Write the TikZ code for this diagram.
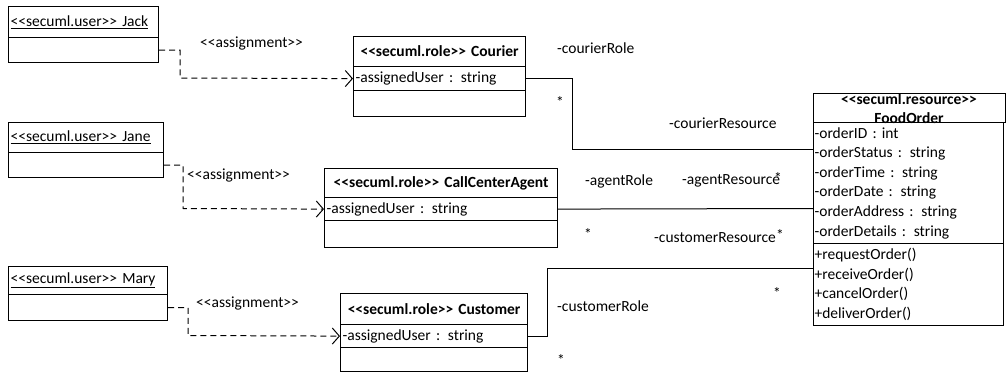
\documentclass[tikz,border=0pt]{standalone}
\usepackage{fontspec}
\setmainfont{Carlito}[Ligatures=TeXOff]
\usetikzlibrary{arrows.meta}
\begin{document}
\begin{tikzpicture}[x=1pt,y=-1pt,
  every node/.style={font=\fontsize{15.5}{18}\selectfont},
  comp/.style={draw, line width=1.2pt, anchor=north west, inner xsep=2pt, inner ysep=0pt, align=left},
  ttl/.style={comp, align=center, font=\fontsize{15.5}{18}\selectfont\bfseries},
  lbl/.style={anchor=west, inner sep=0pt},
  mult/.style={inner sep=0pt},
  assoc/.style={line width=1pt},
  assign/.style={line width=1pt, dash pattern=on 6pt off 4pt,
    -{Straight Barb[length=7pt,width=16pt,line width=1pt]}},
]
\useasboundingbox (0,0) rectangle (1006,374);

% user instances
\node[comp, text width=146pt, minimum height=31pt] (jackT) at (8,6) {\underline{<<secuml.user>> Jack}};
\node[comp, text width=146pt, minimum height=25pt] (jackB) at (8,37) {};
\node[comp, text width=151pt, minimum height=30pt] (janeT) at (8,122) {\underline{<<secuml.user>> Jane}};
\node[comp, text width=151pt, minimum height=25pt] (janeB) at (8,152) {};
\node[comp, text width=155pt, minimum height=28pt] (maryT) at (8,266) {\underline{<<secuml.user>> Mary}};
\node[comp, text width=155pt, minimum height=26pt] (maryB) at (8,294) {};

% roles
\node[ttl, text width=168pt, minimum height=30pt] (courT) at (353,36) {<<secuml.role>> Courier};
\node[comp, text width=168pt, minimum height=24pt] (courA) at (353,66) {-assignedUser : string};
\node[comp, text width=168pt, minimum height=26pt] (courO) at (353,90) {};

\node[ttl, text width=229pt, minimum height=29pt] (agT) at (324,168) {<<secuml.role>> CallCenterAgent};
\node[comp, text width=229pt, minimum height=23pt] (agA) at (324,197) {-assignedUser : string};
\node[comp, text width=229pt, minimum height=27pt] (agO) at (324,220) {};

\node[ttl, text width=183pt, minimum height=31pt] (custT) at (340,293) {<<secuml.role>> Customer};
\node[comp, text width=183pt, minimum height=23pt] (custA) at (340,324) {-assignedUser : string};
\node[comp, text width=183pt, minimum height=24pt] (custO) at (340,347) {};

% resource class
\node[font=\fontsize{15.5}{19}\selectfont\bfseries, align=center, inner sep=0pt] (foodName) at (909,109) {<<secuml.resource>>\\FoodOrder};
\node[comp, text width=188pt, minimum height=29pt] (foodT) at (813,93) {};
\node[comp, text width=188pt, minimum height=121pt, font=\fontsize{15.5}{19.6}\selectfont, inner xsep=1pt] (foodA) at (813,122)
  {-orderID : int\\-orderStatus : string\\-orderTime : string\\-orderDate : string\\-orderAddress : string\\-orderDetails : string};
\node[comp, text width=188pt, minimum height=82pt, font=\fontsize{15.5}{19.6}\selectfont, inner xsep=1pt] (foodO) at (813,243)
  {+requestOrder()\\+receiveOrder()\\+cancelOrder()\\+deliverOrder()};

% association end points on the resource class
\coordinate (fCour) at (813,150);
\coordinate (fAg) at (813,208.5);
\coordinate (fCust) at (813,268);

% assignments
\draw[assign] (jackB.east) -| (180,78) -- (courA.west);
\draw[assign] (janeB.east) -| (183,208.5) -- (agA.west);
\draw[assign] (maryB.east) -| (188,335.5) -- (custA.west);
\node[lbl] (asg1) at (200,44) {<<assignment>>};
\node[lbl] (asg2) at (187,176) {<<assignment>>};
\node[lbl] (asg3) at (196,303) {<<assignment>>};

% associations
\draw[assoc] (courA.east) -| (572,150) -- (fCour);
\draw[assoc] (agA.east) -- (fAg);
\draw[assoc] (custA.east) -| (547,268) -- (fCust);

% role ends and multiplicities
\node[lbl] (crRole) at (557,48) {-courierRole};
\node[lbl] (crRes) at (669,123) {-courierResource};
\node[lbl] (agRole) at (585,181) {-agentRole};
\node[lbl] (agRes) at (682,181) {-agentResource};
\node[lbl] (cuRes) at (654,238) {-customerResource};
\node[lbl] (cuRole) at (557,306) {-customerRole};
\node[mult] (m1) at (560,102) {*};
\node[mult] (m2) at (588,234) {*};
\node[mult] (m3) at (778,178) {*};
\node[mult] (m4) at (780,235) {*};
\node[mult] (m5) at (777,293) {*};
\node[mult] (m6) at (561,360) {*};
\end{tikzpicture}
\end{document}
